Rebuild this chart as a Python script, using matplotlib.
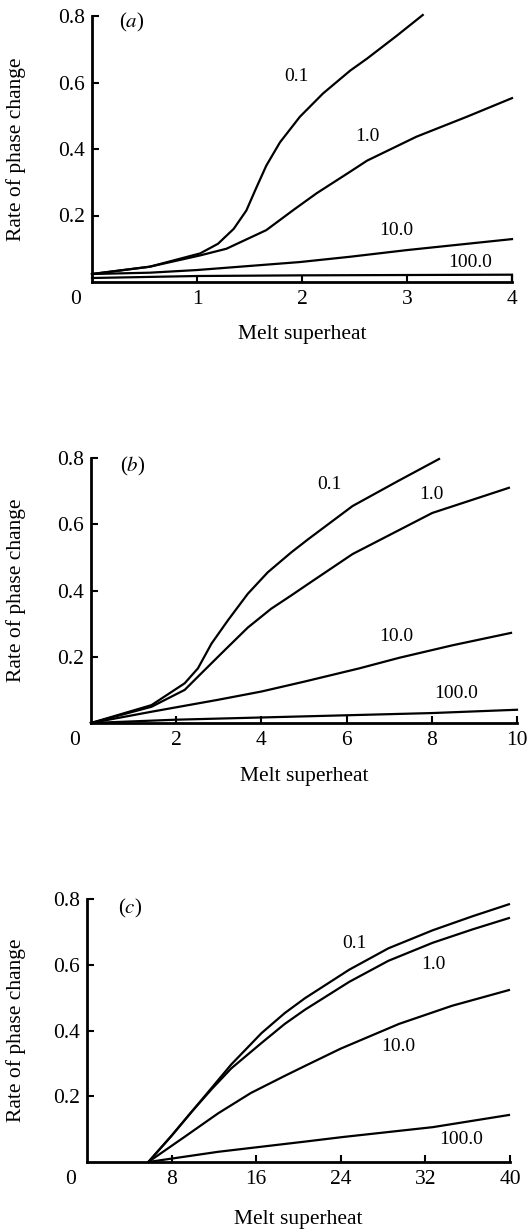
import matplotlib
matplotlib.use('Agg')
import matplotlib.pyplot as plt

plt.rcParams['font.family'] = ['Liberation Serif', 'DejaVu Serif']
plt.rcParams['mathtext.fontset'] = 'stix'

W, H = 529, 1232

# ---- panel (a): melt superheat 0..4
a_x01 = [0, 0.55, 1.03, 1.2, 1.35, 1.47, 1.56, 1.66, 1.79, 1.98, 2.2, 2.46, 2.62, 2.9, 3.15]
a_y01 = [0.024, 0.046, 0.086, 0.115, 0.16, 0.215, 0.28, 0.35, 0.42, 0.497, 0.567, 0.636, 0.672, 0.74, 0.803]
a_x1 = [0, 0.55, 1.03, 1.28, 1.66, 1.92, 2.14, 2.46, 2.62, 3.09, 3.57, 4.0]
a_y1 = [0.024, 0.046, 0.08, 0.1, 0.156, 0.217, 0.267, 0.332, 0.365, 0.437, 0.497, 0.553]
a_x10 = [0, 0.55, 1.0, 1.98, 2.46, 3.0, 4.0]
a_y10 = [0.024, 0.028, 0.036, 0.06, 0.076, 0.096, 0.129]
a_x100 = [0, 1.0, 2.0, 3.0, 4.0]
a_y100 = [0.012, 0.018, 0.02, 0.021, 0.022]

# ---- panel (b): melt superheat 0..10
b_x01 = [0, 1.42, 2.2, 2.51, 2.83, 3.22, 3.68, 4.15, 4.7, 5.1, 6.14, 7.2, 8.17]
b_y01 = [0, 0.054, 0.12, 0.165, 0.24, 0.311, 0.39, 0.455, 0.515, 0.555, 0.655, 0.73, 0.797]
b_x1 = [0, 1.42, 2.2, 2.59, 3.14, 3.68, 4.23, 4.7, 5.1, 6.14, 8.01, 9.81]
b_y1 = [0, 0.049, 0.1, 0.15, 0.22, 0.288, 0.345, 0.385, 0.42, 0.51, 0.634, 0.71]
b_x10 = [0, 1.42, 2.98, 4.0, 5.01, 6.3, 7.24, 8.5, 9.86]
b_y10 = [0, 0.034, 0.07, 0.095, 0.125, 0.165, 0.197, 0.235, 0.272]
b_x100 = [0, 2.0, 5.0, 8.0, 10.0]
b_y100 = [0, 0.01, 0.02, 0.03, 0.04]

# ---- panel (c): melt superheat 0..40
c_x01 = [5.8, 8.0, 9.9, 11.8, 13.65, 16.5, 18.7, 20.6, 24.8, 28.5, 32.7, 36.5, 39.9]
c_y01 = [0, 0.08, 0.153, 0.226, 0.297, 0.392, 0.453, 0.498, 0.585, 0.65, 0.705, 0.748, 0.784]
c_x1 = [5.8, 8.0, 9.9, 11.8, 13.65, 16.5, 18.7, 20.6, 24.8, 28.5, 32.7, 36.5, 39.9]
c_y1 = [0, 0.08, 0.153, 0.222, 0.285, 0.362, 0.42, 0.463, 0.548, 0.612, 0.667, 0.708, 0.742]
c_x10 = [5.8, 9.25, 12.4, 15.5, 18.7, 20.6, 24.0, 29.5, 34.5, 39.9]
c_y10 = [0, 0.077, 0.148, 0.21, 0.262, 0.292, 0.345, 0.42, 0.475, 0.523]
c_x100 = [5.8, 12.4, 20.6, 24.2, 32.7, 39.9]
c_y100 = [0, 0.031, 0.062, 0.076, 0.106, 0.143]

curve_names = ['0.1', '1.0', '10.0', '100.0']
yticks = [0.2, 0.4, 0.6, 0.8]

panels = [
    dict(tag='a', box=(92, 512, 16, 282), xlim=(0, 4), xticks=[1, 2, 3, 4],
         curves=[(a_x01, a_y01), (a_x1, a_y1), (a_x10, a_y10), (a_x100, a_y100)],
         labels=[(1.95, 0.617), (2.62, 0.437), (2.9, 0.156), (3.6, 0.06)],
         tagpos=(0.38, 0.78), ylab=-0.157, xpad=11),
    dict(tag='b', box=(91, 517, 458, 723), xlim=(0, 10), xticks=[2, 4, 6, 8, 10],
         curves=[(b_x01, b_y01), (b_x1, b_y1), (b_x10, b_y10), (b_x100, b_y100)],
         labels=[(5.6, 0.72), (8.0, 0.69), (7.17, 0.26), (8.57, 0.09)],
         tagpos=(0.98, 0.773), ylab=-0.153, xpad=12),
    dict(tag='c', box=(87, 510, 899, 1162), xlim=(0, 40), xticks=[8, 16, 24, 32, 40],
         curves=[(c_x01, c_y01), (c_x1, c_y1), (c_x10, c_y10), (c_x100, c_y100)],
         labels=[(25.3, 0.666), (32.8, 0.6), (29.4, 0.35), (35.4, 0.067)],
         tagpos=(4.1, 0.77), ylab=-0.144, xpad=15),
]

fig = plt.figure(figsize=(W / 100, H / 100), dpi=100)

for p in panels:
    l, r, t, b = p['box']
    ax = fig.add_axes([l / W, 1 - b / H, (r - l) / W, (b - t) / H])
    for (xs, ys) in p['curves']:
        ax.plot(xs, ys, color='black', lw=1.6, clip_on=False,
                solid_joinstyle='round')
    for name, (tx, ty) in zip(curve_names, p['labels']):
        ax.text(tx, ty, name, fontsize=14, ha='center', va='center')
    ax.text(p['tagpos'][0], p['tagpos'][1], '($%s$)' % p['tag'], fontsize=15,
            ha='center', va='center')

    # the 100.0 curve in (a) is closed off at the right end
    if p['tag'] == 'a':
        xs, ys = p['curves'][3]
        ax.vlines(xs[-1], 0, ys[-1], color='black', lw=1.6, clip_on=False)

    ax.set_xlim(*p['xlim'])
    ax.set_ylim(0, 0.8)
    ax.set_xticks(p['xticks'])
    ax.set_yticks(yticks)
    ax.set_yticklabels(['%.1f' % v for v in yticks])
    ax.tick_params(direction='in', length=5, width=1.5, labelsize=15.5, pad=6)
    ax.tick_params(axis='y', pad=5)
    for s in ['top', 'right']:
        ax.spines[s].set_visible(False)
    for s in ['left', 'bottom']:
        ax.spines[s].set_linewidth(2)
    ax.annotate('0', xy=(0, 0), xycoords='data', xytext=(-12, -6),
                textcoords='offset points', ha='center', va='top', fontsize=15.5)
    ax.set_xlabel('Melt superheat', fontsize=15.5, labelpad=p['xpad'])
    ax.set_ylabel('Rate of phase change', fontsize=15.5)
    ax.yaxis.set_label_coords(p['ylab'], 0.5)

fig.savefig('out.png', dpi=100)
